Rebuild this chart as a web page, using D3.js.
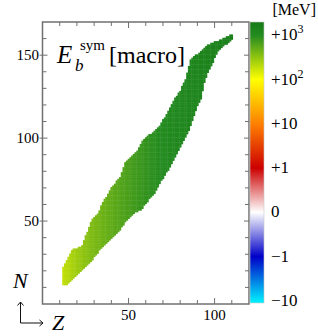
<!DOCTYPE html>
<html>
<head>
<meta charset="utf-8">
<script src="https://cdn.jsdelivr.net/npm/d3@7"></script>
<style>
  body { margin:0; background:#fff; }
</style>
</head>
<body>
<div id="chart"></div>
<script>
var width = 318
var height = 336
var plot = {left:42.5, right:249, top:22, bottom:304}
var xDomain = [0,120]
var yDomain = [0,170]
var serif = '"Liberation Serif", "Times New Roman", serif'

// proton number of each row of cells, with neutron range and energy
var zFirst = 12
var nMin = [12,12,12,13,14,15,16,17,18,19,20,21,22,23,24,25,26,27,29,30,31,33,34,35,36,37,38,39,40,41,
  42,43,44,45,47,48,50,51,52,53,54,55,56,56,57,57,58,60,61,62,64,65,66,67,69,71,73,75,76,78,
  80,81,83,85,87,89,91,93,95,97,99,101,103,105,108,111,114,117,120,122,124,129,134,137,140,142,144,146,149,151,
  153,154,155,156,157,157,158,159,160]
var nMax = [22,24,26,28,30,32,33,33,33,34,34,35,38,41,43,46,49,51,52,53,54,56,59,61,63,64,66,68,70,71,
  72,74,75,76,79,82,85,86,87,88,89,90,91,92,94,96,98,99,100,101,102,102,103,104,105,106,107,109,111,112,
  114,116,118,120,122,124,125,127,128,131,133,135,139,143,147,148,149,150,150,151,152,153,154,155,156,156,157,157,158,158,
  158,159,159,160,160,161,161,162,162]
var eSym = [190,200,210,220,230,240,255,265,280,290,300,315,325,340,350,365,375,390,400,410,425,435,450,460,475,490,500,515,530,545,
  560,570,585,600,615,630,645,660,680,695,710,725,745,760,780,795,815,830,850,865,880,900,915,930,945,960,975,990,1000,1020,
  1035,1050,1065,1080,1095,1110,1125,1140,1150,1165,1180,1200,1215,1230,1245,1260,1270,1285,1300,1315,1330,1345,1360,1380,1390,1405,1420,1435,1450,1465,
  1480,1490,1505,1520,1535,1550,1565,1580,1600]

// colour bar: ticks and colour stops on the symlog scale (t = 0 at 0 MeV, t = 1 at 1 MeV, +1 per decade)
var cbTicks = [4,3,2,1,0,-1,-2]
var cbLabels = [["+10","3"],["+10","2"],["+10",""],["+1",""],["0",""],["\u22121",""],["\u221210",""]]
var cbStopT = [-2.05,-1,0,1,2,3,4,4.3]
var cbStopColor = ["#00f4ff","#0000c8","#ffffff","#cc0000","#ff8000","#ffff00","#238b20","#167a16"]

function symlogT(v) {
  if (Math.abs(v) <= 1) return v
  return Math.sign(v)*(1+Math.log10(Math.abs(v)))
}

var svg = d3.select('#chart')
      .append('svg')
      .attr('width',width)
      .attr('height',height)
      .attr('font-family',serif);

var xScale = d3.scaleLinear().domain(xDomain).range([plot.left,plot.right]);
var yScale = d3.scaleLinear().domain(yDomain).range([plot.bottom,plot.top]);
var colorScale = d3.scaleLinear().domain(cbStopT).range(cbStopColor).interpolate(d3.interpolateRgb).clamp(true);
var cbScale = d3.scaleLinear().domain([cbStopT[0],cbStopT[cbStopT.length-1]]).range([303,22]);

// build one cell per nucleus
var cells = []
nMax.forEach(function(top,i) {
  for (var n = nMin[i]; n <= top; n++) {
    cells.push({z:zFirst+i, n:n, e:eSym[i]})
  }
})

var cw = xScale(1)-xScale(0)
var ch = yScale(0)-yScale(1)
svg.append('g')
  .selectAll('rect')
  .data(cells)
  .enter()
  .append('rect')
  .attr('x',function(d){return xScale(d.z-0.5)})
  .attr('y',function(d){return yScale(d.n+0.5)})
  .attr('width',cw+0.4)
  .attr('height',ch+0.4)
  .attr('fill',function(d){return colorScale(symlogT(d.e))});

// frame with inward ticks on all four sides
var axisColor = '#707070'
var frame = svg.append('g').attr('stroke',axisColor).attr('fill','none')
frame.append('rect')
  .attr('x',plot.left).attr('y',plot.top)
  .attr('width',plot.right-plot.left).attr('height',plot.bottom-plot.top)
  .attr('stroke-width',1.5);

var xTicks = d3.range(10,120,10)
var yTicks = d3.range(10,170,10)
xTicks.forEach(function(v) {
  var len = v % 50 == 0 ? 6 : 4
  frame.append('line').attr('x1',xScale(v)).attr('x2',xScale(v)).attr('y1',plot.bottom).attr('y2',plot.bottom-len);
  frame.append('line').attr('x1',xScale(v)).attr('x2',xScale(v)).attr('y1',plot.top).attr('y2',plot.top+len);
})
yTicks.forEach(function(v) {
  var major = v % 50 == 0
  var len = major ? 5 : 4
  frame.append('line').attr('y1',yScale(v)).attr('y2',yScale(v)).attr('x1',plot.left-(major?3:0)).attr('x2',plot.left+len);
  frame.append('line').attr('y1',yScale(v)).attr('y2',yScale(v)).attr('x1',plot.right).attr('x2',plot.right-len);
})

// tick labels
svg.selectAll('.xlab')
  .data([50,100])
  .enter()
  .append('text')
  .attr('x',function(d){return xScale(d)})
  .attr('y',320)
  .attr('text-anchor','middle')
  .style('font-size','15px')
  .text(function(d){return d});
svg.selectAll('.ylab')
  .data([50,100,150])
  .enter()
  .append('text')
  .attr('x',39)
  .attr('y',function(d){return yScale(d)+5})
  .attr('text-anchor','end')
  .style('font-size','15px')
  .text(function(d){return d});

// title inside the plot
svg.append('text').attr('x',57).attr('y',63).style('font-size','25px').style('font-style','italic').text('E')
svg.append('text').attr('x',75).attr('y',71).style('font-size','17px').style('font-style','italic').text('b')
svg.append('text').attr('x',80).attr('y',50).style('font-size','15px').text('sym')
svg.append('text').attr('x',109).attr('y',63).style('font-size','24px').text('[macro]')

// axis names and little arrows
svg.append('text').attr('x',13).attr('y',288).style('font-size','22px').style('font-style','italic').text('N')
svg.append('text').attr('x',52).attr('y',330).style('font-size','22px').style('font-style','italic').text('Z')
var arrows = svg.append('g').attr('stroke','#111').attr('fill','none').attr('stroke-width',1)
arrows.append('path').attr('d','M20.5,323 L20.5,302 M17.5,305.5 L20.5,302 L23.5,305.5')
arrows.append('path').attr('d','M20.5,323 L43,323 M39.5,320 L43,323 L39.5,326')

// colour bar
var defs = svg.append('defs')
var grad = defs.append('linearGradient').attr('id','cbgrad')
  .attr('x1',0).attr('x2',0).attr('y1',1).attr('y2',0)
grad.selectAll('stop')
  .data(cbStopT)
  .enter()
  .append('stop')
  .attr('offset',function(d){return (d-cbStopT[0])/(cbStopT[cbStopT.length-1]-cbStopT[0])})
  .attr('stop-color',function(d,i){return cbStopColor[i]});
svg.append('rect')
  .attr('x',250).attr('y',22).attr('width',14).attr('height',281)
  .attr('fill','url(#cbgrad)')
  .attr('stroke','#c8c8c8').attr('stroke-width',0.6);

var cbLab = svg.selectAll('.cblab')
  .data(cbTicks)
  .enter()
  .append('text')
  .attr('x',271)
  .attr('y',function(d){return cbScale(d)+5})
  .style('font-size','17px');
cbLab.append('tspan').text(function(d,i){return cbLabels[i][0]});
cbLab.append('tspan').attr('dy',-7).style('font-size','12px').text(function(d,i){return cbLabels[i][1]});

svg.append('text').attr('x',316).attr('y',15).attr('text-anchor','end').style('font-size','16px').text('[MeV]')
</script>
</body>
</html>
